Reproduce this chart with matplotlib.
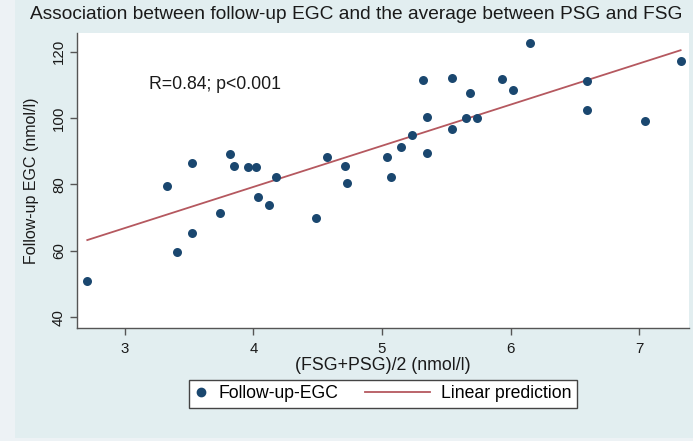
import numpy as np
import matplotlib
matplotlib.use('Agg')
import matplotlib.pyplot as plt
from matplotlib.lines import Line2D
from matplotlib.patches import Rectangle
from matplotlib.legend_handler import HandlerLine2D

# (FSG+PSG)/2 vs follow-up EGC
avg_sg = [2.71, 3.33, 3.41, 3.52, 3.52, 3.74, 3.82, 3.85, 3.96, 4.02,
          4.04, 4.12, 4.18, 4.49, 4.57, 4.71, 4.73, 5.04, 5.07, 5.15,
          5.23, 5.32, 5.35, 5.35, 5.54, 5.54, 5.68, 5.65, 5.74, 5.93,
          6.02, 6.15, 6.59, 6.59, 7.04, 7.32]
egc = [51.0, 79.6, 59.8, 86.6, 65.5, 71.3, 89.2, 85.5, 85.3, 85.3,
       76.2, 73.9, 82.3, 69.8, 88.3, 85.5, 80.5, 88.4, 82.3, 91.3,
       94.8, 111.5, 100.4, 89.5, 112.1, 96.8, 107.5, 100.0, 100.0, 111.6,
       108.5, 122.5, 111.0, 102.4, 99.0, 117.2]
x_ticks = [3, 4, 5, 6, 7]
y_ticks = [40, 60, 80, 100, 120]

plt.rcParams['font.family'] = ['Liberation Sans', 'DejaVu Sans']

navy = '#1a476f'
maroon = '#b5585f'
bg = '#e2eef0'
txt = '#1a1a1a'


# legend line sample that reaches further left than the handle box
class LongLine(HandlerLine2D):
    def create_artists(self, legend, orig_handle, xdescent, ydescent,
                       width, height, fontsize, trans):
        ext = 2.9 * fontsize
        y = height / 2 - ydescent
        line = Line2D([-xdescent - ext, width - xdescent], [y, y])
        self.update_prop(line, orig_handle, legend)
        line.set_transform(trans)
        return [line]


fig = plt.figure(figsize=(6.93, 4.41), dpi=100, facecolor=bg)
# lighter margin at the left and bottom edge of the screenshot
fig.patches.append(Rectangle((0, 0), 15 / 693, 1, transform=fig.transFigure,
                             facecolor='#edf2f5', edgecolor='none', zorder=-1))
fig.patches.append(Rectangle((0, 0), 1, 3 / 441, transform=fig.transFigure,
                             facecolor='#edf2f5', edgecolor='none', zorder=-1))

ax = fig.add_axes([0.1111, 0.2569, 0.8831, 0.6683])
ax.set_facecolor('white')

ax.scatter(avg_sg, egc, s=42, color=navy, zorder=3, linewidths=0)

# linear prediction
x = np.array(avg_sg)
k, b = np.polyfit(x, np.array(egc), 1)
xs = np.array([x.min(), x.max()])
ax.plot(xs, k * xs + b, color=maroon, lw=1.3, zorder=2)

ax.text(3.19, 110, 'R=0.84; p<0.001', fontsize=12.7, ha='left', va='center',
        color=txt)

ax.set_xlim(2.63, 7.385)
ax.set_ylim(36.87, 125.6)
ax.set_xticks(x_ticks)
ax.set_yticks(y_ticks)
ax.set_yticklabels([str(v) for v in y_ticks], rotation=90, va='center')

for s in ['top', 'right']:
    ax.spines[s].set_visible(False)
for s in ['left', 'bottom']:
    ax.spines[s].set_color('#555555')
    ax.spines[s].set_linewidth(1.0)
ax.tick_params(direction='out', length=5, width=1, color='#555555',
               labelsize=10.8, labelcolor=txt)
ax.tick_params(axis='x', pad=5)
ax.tick_params(axis='y', pad=3)

ax.set_xlabel('(FSG+PSG)/2 (nmol/l)', fontsize=12.8, labelpad=1, color=txt)
ax.set_ylabel('Follow-up EGC (nmol/l)', fontsize=11.5, labelpad=9, color=txt)

fig.text(0.514, 0.966, 'Association between follow-up EGC and the average between PSG and FSG',
         fontsize=13.8, ha='center', va='center', color=txt)

h_dot = Line2D([], [], marker='o', linestyle='none', color=navy, markersize=6)
h_line = Line2D([], [], color=maroon, lw=1.3)
leg = fig.legend([h_dot, h_line], ['Follow-up-EGC', 'Linear prediction'],
                 loc='center', bbox_to_anchor=(0.5522, 0.1066), ncol=2,
                 fontsize=12.7, frameon=True, fancybox=False, framealpha=1,
                 edgecolor='#444444', facecolor='white',
                 handlelength=0.8, handletextpad=0.6, borderpad=0.3,
                 columnspacing=4.4, handler_map={h_line: LongLine()})
leg.get_frame().set_linewidth(1.0)

fig.savefig('out.png', dpi=100, facecolor=bg)
